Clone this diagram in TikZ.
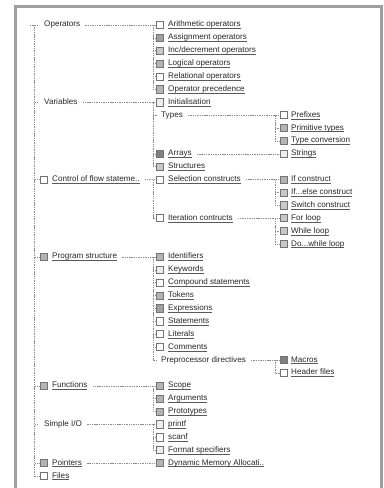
\documentclass[tikz,border=0pt]{standalone}
\usepackage{fontspec}
\setmainfont{Liberation Sans}
\usetikzlibrary{calc}
\definecolor{boxP}{HTML}{EEEEEE}
\definecolor{boxL}{HTML}{C8C8C8}
\definecolor{boxM}{HTML}{B4B4B4}
\definecolor{boxD}{HTML}{A0A0A0}
\definecolor{boxK}{HTML}{808080}
\newcommand{\ulink}[1]{\setbox0\hbox{#1}\rlap{\color{black!65}\rule[-1.8pt]{\wd0}{0.45pt}}\box0}

\begin{document}
\begin{tikzpicture}[
    x=1pt, y=-12.886pt,
    lbl/.style={anchor=west, inner sep=0pt, text height=5.6pt, text depth=1.6pt, font=\fontsize{8.1}{9}\selectfont, text=black!85},
    boxw/.style={draw=black!55, fill=white, line width=0.8pt, minimum size=7.2pt, inner sep=0pt},
    boxp/.style={boxw, fill=boxP},
    boxl/.style={boxw, fill=boxL},
    boxm/.style={boxw, fill=boxM},
    boxd/.style={boxw, fill=boxD},
    boxk/.style={boxw, fill=boxK},
    tree/.style={draw=gray!90, line width=0.6pt, dash pattern=on 1.4pt off 0.9pt},
    frame/.style={draw=gray!75, line width=3pt},
]

\useasboundingbox (0,-1.94) rectangle (383,35.93);
\draw[frame] (15.5,35.93) -- (15.5,-1.435) -- (381.5,-1.435) -- (381.5,35.93);

\coordinate (root) at (30,0);
\coordinate (v0) at (34.5,0);
\coordinate (v1) at (153,0);
\coordinate (v2) at (275,0);

% first level
\node[lbl] (ops_t) at (44,0) {Operators};
\node[lbl] (vars_t) at (44,6) {Variables};
\node[boxw] (ctrl_b) at (43.5,12) {};
\node[lbl] (ctrl_t) at (52,12) {\ulink{Control of flow stateme..}};
\node[boxm] (prog_b) at (43.5,18) {};
\node[lbl] (prog_t) at (52,18) {\ulink{Program structure}};
\node[boxm] (fun_b) at (43.5,28) {};
\node[lbl] (fun_t) at (52,28) {\ulink{Functions}};
\node[lbl] (sio_t) at (44,31) {Simple I/O};
\node[boxm] (ptr_b) at (43.5,34) {};
\node[lbl] (ptr_t) at (52,34) {\ulink{Pointers}};
\node[boxw] (files_b) at (43.5,35) {};
\node[lbl] (files_t) at (52,35) {\ulink{Files}};

% second level
\node[boxw] (arith_b) at (159.5,0) {};
\node[lbl] (arith_t) at (168,0) {\ulink{Arithmetic operators}};
\node[boxd] (assign_b) at (159.5,1) {};
\node[lbl] (assign_t) at (168,1) {\ulink{Assignment operators}};
\node[boxl] (incdec_b) at (159.5,2) {};
\node[lbl] (incdec_t) at (168,2) {\ulink{Inc/decrement operators}};
\node[boxm] (logic_b) at (159.5,3) {};
\node[lbl] (logic_t) at (168,3) {\ulink{Logical operators}};
\node[boxw] (rel_b) at (159.5,4) {};
\node[lbl] (rel_t) at (168,4) {\ulink{Relational operators}};
\node[boxm] (prec_b) at (159.5,5) {};
\node[lbl] (prec_t) at (168,5) {\ulink{Operator precedence}};
\node[boxp] (init_b) at (159.5,6) {};
\node[lbl] (init_t) at (168,6) {\ulink{Initialisation}};
\node[lbl] (types_t) at (161,7) {Types};
\node[boxk] (arrays_b) at (159.5,10) {};
\node[lbl] (arrays_t) at (168,10) {\ulink{Arrays}};
\node[boxl] (structs_b) at (159.5,11) {};
\node[lbl] (structs_t) at (168,11) {\ulink{Structures}};
\node[boxw] (select_b) at (159.5,12) {};
\node[lbl] (select_t) at (168,12) {\ulink{Selection constructs}};
\node[boxw] (iter_b) at (159.5,15) {};
\node[lbl] (iter_t) at (168,15) {\ulink{Iteration contructs}};
\node[boxm] (ident_b) at (159.5,18) {};
\node[lbl] (ident_t) at (168,18) {\ulink{Identifiers}};
\node[boxp] (keyw_b) at (159.5,19) {};
\node[lbl] (keyw_t) at (168,19) {\ulink{Keywords}};
\node[boxw] (comp_b) at (159.5,20) {};
\node[lbl] (comp_t) at (168,20) {\ulink{Compound statements}};
\node[boxm] (tokens_b) at (159.5,21) {};
\node[lbl] (tokens_t) at (168,21) {\ulink{Tokens}};
\node[boxd] (exprs_b) at (159.5,22) {};
\node[lbl] (exprs_t) at (168,22) {\ulink{Expressions}};
\node[boxw] (stmts_b) at (159.5,23) {};
\node[lbl] (stmts_t) at (168,23) {\ulink{Statements}};
\node[boxw] (lits_b) at (159.5,24) {};
\node[lbl] (lits_t) at (168,24) {\ulink{Literals}};
\node[boxw] (comm_b) at (159.5,25) {};
\node[lbl] (comm_t) at (168,25) {\ulink{Comments}};
\node[lbl] (preproc_t) at (161,26) {Preprocessor directives};
\node[boxm] (scope_b) at (159.5,28) {};
\node[lbl] (scope_t) at (168,28) {\ulink{Scope}};
\node[boxm] (args_b) at (159.5,29) {};
\node[lbl] (args_t) at (168,29) {\ulink{Arguments}};
\node[boxm] (proto_b) at (159.5,30) {};
\node[lbl] (proto_t) at (168,30) {\ulink{Prototypes}};
\node[boxp] (printf_b) at (159.5,31) {};
\node[lbl] (printf_t) at (168,31) {\ulink{printf}};
\node[boxw] (scanf_b) at (159.5,32) {};
\node[lbl] (scanf_t) at (168,32) {\ulink{scanf}};
\node[boxp] (fmt_b) at (159.5,33) {};
\node[lbl] (fmt_t) at (168,33) {\ulink{Format specifiers}};
\node[boxm] (dyn_b) at (159.5,34) {};
\node[lbl] (dyn_t) at (168,34) {\ulink{Dynamic Memory Allocati..}};

% third level
\node[boxw] (prefix_b) at (283.5,7) {};
\node[lbl] (prefix_t) at (291,7) {\ulink{Prefixes}};
\node[boxm] (prim_b) at (283.5,8) {};
\node[lbl] (prim_t) at (291,8) {\ulink{Primitive types}};
\node[boxm] (tconv_b) at (283.5,9) {};
\node[lbl] (tconv_t) at (291,9) {\ulink{Type conversion}};
\node[boxp] (strings_b) at (283.5,10) {};
\node[lbl] (strings_t) at (291,10) {\ulink{Strings}};
\node[boxm] (ifc_b) at (283.5,12) {};
\node[lbl] (ifc_t) at (291,12) {\ulink{If construct}};
\node[boxl] (ifelse_b) at (283.5,13) {};
\node[lbl] (ifelse_t) at (291,13) {\ulink{If...else construct}};
\node[boxl] (switch_b) at (283.5,14) {};
\node[lbl] (switch_t) at (291,14) {\ulink{Switch construct}};
\node[boxl] (for_b) at (283.5,15) {};
\node[lbl] (for_t) at (291,15) {\ulink{For loop}};
\node[boxl] (while_b) at (283.5,16) {};
\node[lbl] (while_t) at (291,16) {\ulink{While loop}};
\node[boxl] (dowhile_b) at (283.5,17) {};
\node[lbl] (dowhile_t) at (291,17) {\ulink{Do...while loop}};
\node[boxk] (macros_b) at (283.5,26) {};
\node[lbl] (macros_t) at (291,26) {\ulink{Macros}};
\node[boxw] (headers_b) at (283.5,27) {};
\node[lbl] (headers_t) at (291,27) {\ulink{Header files}};

% tree lines
\draw[tree, shorten >=5pt] (root) -- (ops_t);
\draw[tree] (root -| v0) |- (files_b);
\draw[tree, shorten >=5pt] (vars_t -| v0) -- (vars_t);
\draw[tree] (ctrl_b -| v0) -- (ctrl_b);
\draw[tree] (prog_b -| v0) -- (prog_b);
\draw[tree] (fun_b -| v0) -- (fun_b);
\draw[tree, shorten >=5pt] (sio_t -| v0) -- (sio_t);
\draw[tree] (ptr_b -| v0) -- (ptr_b);

\draw[tree, shorten <=5pt] (ops_t) -- (arith_b);
\draw[tree] (arith_b -| v1) |- (prec_b);
\draw[tree] (assign_b -| v1) -- (assign_b);
\draw[tree] (incdec_b -| v1) -- (incdec_b);
\draw[tree] (logic_b -| v1) -- (logic_b);
\draw[tree] (rel_b -| v1) -- (rel_b);

\draw[tree, shorten <=5pt] (vars_t) -- (init_b);
\draw[tree] (init_b -| v1) |- (structs_b);
\draw[tree, shorten >=4pt] (types_t -| v1) -- (types_t);
\draw[tree] (arrays_b -| v1) -- (arrays_b);
\draw[tree, shorten <=5pt] (types_t) -- (prefix_b);
\draw[tree] (prefix_b -| v2) |- (tconv_b);
\draw[tree] (prim_b -| v2) -- (prim_b);
\draw[tree, shorten <=5pt] (arrays_t) -- (strings_b);

\draw[tree, shorten <=5pt] (ctrl_t) -- (select_b);
\draw[tree] (select_b -| v1) |- (iter_b);
\draw[tree, shorten <=5pt] (select_t) -- (ifc_b);
\draw[tree] (ifc_b -| v2) |- (switch_b);
\draw[tree] (ifelse_b -| v2) -- (ifelse_b);
\draw[tree, shorten <=5pt] (iter_t) -- (for_b);
\draw[tree] (for_b -| v2) |- (dowhile_b);
\draw[tree] (while_b -| v2) -- (while_b);

\draw[tree, shorten <=5pt] (prog_t) -- (ident_b);
\draw[tree, shorten >=4pt] (ident_b -| v1) |- (preproc_t);
\draw[tree] (keyw_b -| v1) -- (keyw_b);
\draw[tree] (comp_b -| v1) -- (comp_b);
\draw[tree] (tokens_b -| v1) -- (tokens_b);
\draw[tree] (exprs_b -| v1) -- (exprs_b);
\draw[tree] (stmts_b -| v1) -- (stmts_b);
\draw[tree] (lits_b -| v1) -- (lits_b);
\draw[tree] (comm_b -| v1) -- (comm_b);
\draw[tree, shorten <=5pt] (preproc_t) -- (macros_b);
\draw[tree] (macros_b -| v2) |- (headers_b);

\draw[tree, shorten <=5pt] (fun_t) -- (scope_b);
\draw[tree] (scope_b -| v1) |- (proto_b);
\draw[tree] (args_b -| v1) -- (args_b);
\draw[tree, shorten <=5pt] (sio_t) -- (printf_b);
\draw[tree] (printf_b -| v1) |- (fmt_b);
\draw[tree] (scanf_b -| v1) -- (scanf_b);
\draw[tree, shorten <=5pt] (ptr_t) -- (dyn_b);

\end{tikzpicture}
\end{document}
